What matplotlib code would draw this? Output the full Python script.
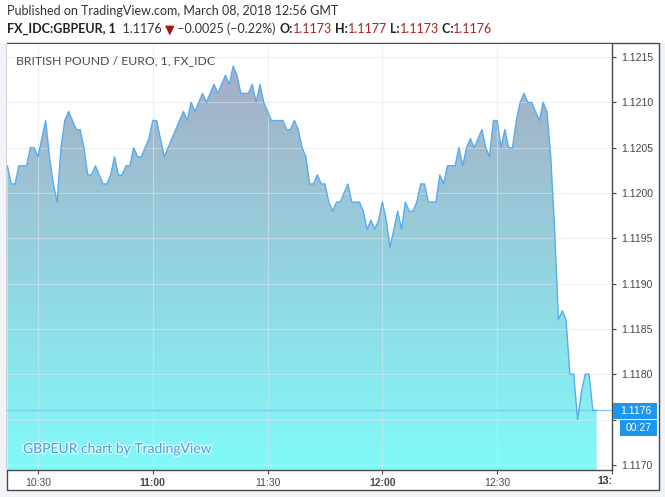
import numpy as np
import pandas as pd
import matplotlib
matplotlib.use('Agg')
import matplotlib.pyplot as plt
import matplotlib.dates as mdates
import matplotlib.patheffects as pe
import matplotlib.transforms as mtrans
from matplotlib.patches import Rectangle, Polygon
from matplotlib.colors import LinearSegmentedColormap

# GBPEUR 1-minute closes, 10:22 .. 12:56 GMT
start = '2018-03-08 10:22'
closes = [
    1.1203, 1.1201, 1.1201, 1.1203, 1.1203, 1.1203, 1.1205, 1.1205, 1.1204, 1.1206,
    1.1208, 1.1204, 1.1201, 1.1199, 1.1205, 1.1208, 1.1209, 1.1208, 1.1207, 1.1207,
    1.1205, 1.1202, 1.1202, 1.1203, 1.1202, 1.1201, 1.1201, 1.1202, 1.1204, 1.1202,
    1.1202, 1.1203, 1.1203, 1.1205, 1.1204, 1.1204, 1.1205, 1.1206, 1.1208, 1.1208,
    1.1206, 1.1204, 1.1205, 1.1206, 1.1207, 1.1208, 1.1209, 1.1208, 1.1210, 1.1209,
    1.1210, 1.1211, 1.1210, 1.1211, 1.1212, 1.1211, 1.1212, 1.1213, 1.1212, 1.1214,
    1.1213, 1.1211, 1.1211, 1.1211, 1.1212, 1.1210, 1.1212, 1.1210, 1.1209, 1.1208,
    1.1208, 1.1208, 1.1208, 1.1207, 1.1207, 1.1208, 1.1207, 1.1205, 1.1204, 1.1201,
    1.1201, 1.1202, 1.1201, 1.1201, 1.1199, 1.1198, 1.1199, 1.1199, 1.1200, 1.1201,
    1.1199, 1.1199, 1.1199, 1.1198, 1.1196, 1.1197, 1.1196, 1.1197, 1.1199, 1.1197,
    1.1194, 1.1196, 1.1198, 1.1196, 1.1199, 1.1198, 1.1198, 1.1199, 1.1201, 1.1201,
    1.1199, 1.1199, 1.1199, 1.1202, 1.1201, 1.1203, 1.1203, 1.1203, 1.1205, 1.1203,
    1.1205, 1.1206, 1.1205, 1.1206, 1.1207, 1.1205, 1.1204, 1.1208, 1.1208, 1.1205,
    1.1207, 1.1205, 1.1205, 1.1208, 1.1210, 1.1211, 1.1210, 1.1210, 1.1209, 1.1208,
    1.1210, 1.1209, 1.1204, 1.1196, 1.1186, 1.1187, 1.1186, 1.1180, 1.1180, 1.1175,
    1.1178, 1.1180, 1.1180, 1.1176, 1.1176,
]
times = pd.date_range(start, periods=len(closes), freq='1min')

price_ticks = [1.1170, 1.1175, 1.1180, 1.1185, 1.1190, 1.1195, 1.1200, 1.1205, 1.1210, 1.1215]
time_ticks = ['10:30', '11:00', '11:30', '12:00', '12:30']
bold_times = ['11:00', '12:00']
last_price = 1.1176
countdown = '00:27'
header1 = 'Published on TradingView.com, March 08, 2018 12:56 GMT'
chart_title = 'BRITISH POUND / EURO, 1, FX_IDC'
watermark = 'GBPEUR chart by TradingView'
# header line 2: (text, color, weight)
header2 = [
    ('FX_IDC:GBPEUR, 1', '#222222', 'bold'),
    ('  1.1176 ', '#333333', 'normal'),
    ('\u25bc', '#a31616', 'normal'),
    (' \u22120.0025 (\u22120.22%) ', '#333333', 'normal'),
    ('O:', '#222222', 'bold'), ('1.1173', '#ad1f1f', 'normal'),
    (' H:', '#222222', 'bold'), ('1.1177', '#ad1f1f', 'normal'),
    (' L:', '#222222', 'bold'), ('1.1173', '#ad1f1f', 'normal'),
    (' C:', '#222222', 'bold'), ('1.1176', '#ad1f1f', 'normal'),
]

W, H = 665, 497
FONT = ['Lato', 'DejaVu Sans']
NUMF = ['Liberation Sans', 'DejaVu Sans']

def fx(x):
    return x / W

def fy(y):
    return 1 - y / H

fig = plt.figure(figsize=(W / 100, H / 100), dpi=100)
fig.patch.set_facecolor('#f0f3f7')
fig.patches.append(Rectangle((0, fy(43)), 1, 1 - fy(43), transform=fig.transFigure,
                             facecolor='white', edgecolor='none', zorder=-2))
fig.patches.append(Rectangle((fx(6.5), fy(490)), fx(659) - fx(6.5), fy(43) - fy(490),
                             transform=fig.transFigure, facecolor='white',
                             edgecolor='#4a4a4a', lw=1, zorder=-1))

ax = fig.add_axes([fx(7), fy(470), fx(612) - fx(7), fy(44) - fy(470)])
ax.set_zorder(1)
ax.set_facecolor('white')

xn = mdates.date2num(times)
x0 = xn[0] - 0.1 / 1440
x1 = mdates.date2num(pd.Timestamp('2018-03-08 13:00'))
y0 = 1.1200 - (470 - 193) / 90600
y1 = 1.1200 + (193 - 44) / 90600

# gradient area under the line
cmap = LinearSegmentedColormap.from_list('area', ['#a9a9c2', '#80fafa'])
grad = np.linspace(0, 1, 256).reshape(-1, 1)
im = ax.imshow(grad, extent=[x0, x1, y0, y1], origin='upper', aspect='auto',
               cmap=cmap, zorder=1, interpolation='bilinear')
verts = list(zip(xn, closes)) + [(xn[-1], y0), (xn[0], y0)]
poly = Polygon(verts, closed=True, facecolor='none', edgecolor='none')
ax.add_patch(poly)
im.set_clip_path(poly)

ax.plot(xn, closes, color='#56acef', lw=1.0, zorder=3)
ax.axhline(last_price, color='#86c6ee', lw=0.9, zorder=2.6)

ax.set_xlim(x0, x1)
ax.set_ylim(y0, y1)

# price scale on the right
ax.yaxis.tick_right()
ax.set_yticks(price_ticks)
ax.set_yticklabels(['' if abs(p - 1.1175) < 1e-9 else f'{p:.4f}' for p in price_ticks],
                   family=NUMF)
ax.tick_params(axis='y', direction='out', length=3, width=0.8, color='#4a4a4a',
               labelsize=7.5, labelcolor='#444444', pad=3.5)

# time scale
tick_pos = [mdates.date2num(pd.Timestamp('2018-03-08 ' + t)) for t in time_ticks]
ax.set_xticks(tick_pos + [x1])
ax.set_xticklabels(time_ticks + [''], family=NUMF)
for lab, t in zip(ax.get_xticklabels(), time_ticks):
    if t in bold_times:
        lab.set_fontweight('bold')
        lab.set_color('#333333')
ax.tick_params(axis='x', direction='out', length=3, width=0.8, color='#4a4a4a',
               labelsize=7.5, labelcolor='#4a4a4a', pad=3)
ax.text(x1, fy(481), '13:', transform=mtrans.blended_transform_factory(ax.transData, fig.transFigure),
        ha='right', va='center', fontsize=7.5, fontweight='bold', color='#333333',
        family=NUMF, clip_on=False)

ax.grid(True, color='#dfe6ee', lw=0.8, alpha=0.55)
for side in ['left', 'top']:
    ax.spines[side].set_visible(False)
for side in ['right', 'bottom']:
    ax.spines[side].set_color('#4a4a4a')
    ax.spines[side].set_linewidth(1)

# last price and countdown boxes
fig.patches.append(Rectangle((fx(613), fy(419)), fx(657) - fx(613), fy(403) - fy(419),
                             transform=fig.transFigure, facecolor='#1e96f0',
                             edgecolor='none', zorder=5))
fig.patches.append(Rectangle((fx(620), fy(436)), fx(657) - fx(620), fy(420) - fy(436),
                             transform=fig.transFigure, facecolor='#1e96f0',
                             edgecolor='none', zorder=5))
fig.text(fx(636), fy(411), f'{last_price:.4f}', ha='center', va='center', fontsize=7.5,
         color='white', family=NUMF, zorder=6)
fig.text(fx(638.5), fy(428), countdown, ha='center', va='center', fontsize=7.5,
         color='white', family=NUMF, zorder=6)

# texts
fig.text(fx(7), fy(11), header1, ha='left', va='center', fontsize=9.0, color='#333333',
         family=FONT)
ax.text(fx(16), fy(61), chart_title, transform=fig.transFigure, ha='left', va='center',
        fontsize=8.8, color='#4a4a4a', family=FONT, zorder=6)
ax.text(fx(23), fy(449), watermark, transform=fig.transFigure, ha='left', va='center',
        fontsize=10, color='#4a9fe0', family=FONT, zorder=6,
        path_effects=[pe.withStroke(linewidth=2, foreground='#d8fbfc')])

fig.canvas.draw()
r = fig.canvas.get_renderer()
xpos = 7
for s, c, w in header2:
    t = fig.text(fx(xpos), fy(29), s, ha='left', va='center', fontsize=9.0, color=c,
                 fontweight=w, family=FONT)
    xpos = t.get_window_extent(renderer=r).x1

fig.savefig('out.png', dpi=100, facecolor=fig.get_facecolor())
